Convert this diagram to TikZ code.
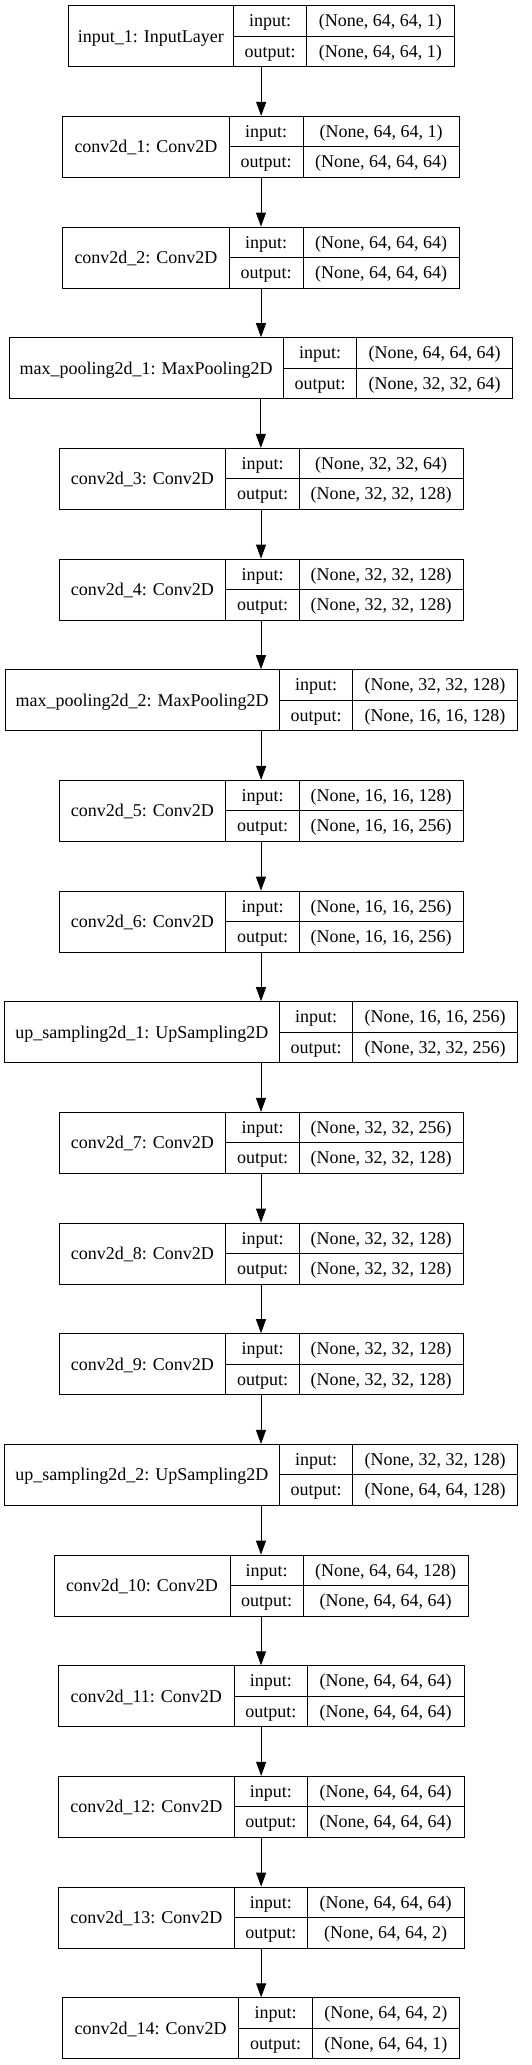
\documentclass[tikz,border=0pt]{standalone}
\usepackage{fontspec}
\setmainfont{Liberation Serif}
\usetikzlibrary{arrows.meta}
\begin{document}
\begin{tikzpicture}[x=1pt,y=1pt,
  box/.style={draw=black, line width=1pt, inner sep=0pt, minimum height=61pt},
  divline/.style={draw=black, line width=1pt},
  txt/.style={inner sep=0pt, anchor=base, font=\fontsize{18}{20}\selectfont},
  arr/.style={draw=black, line width=1pt, -{Triangle[length=14pt,width=10pt]}}]
\useasboundingbox[fill=white] (0,0) rectangle (531,-2065);
\foreach \kk/\ty/\xa/\xb/\xc/\xd/\lab/\si/\so in {
 0/5.7/68.3/233.3/306.7/454/{input\_1: InputLayer}/{(None, 64, 64, 1)}/{(None, 64, 64, 1)},
 1/116.4/62.7/229.3/303/459.3/{conv2d\_1: Conv2D}/{(None, 64, 64, 1)}/{(None, 64, 64, 64)},
 2/227.0/62.7/229.3/303/459.3/{conv2d\_2: Conv2D}/{(None, 64, 64, 64)}/{(None, 64, 64, 64)},
 3/337.7/9/283.3/356.7/512.7/{max\_pooling2d\_1: MaxPooling2D}/{(None, 64, 64, 64)}/{(None, 32, 32, 64)},
 4/448.4/59/225.7/299.3/463/{conv2d\_3: Conv2D}/{(None, 32, 32, 64)}/{(None, 32, 32, 128)},
 5/559.1/59/225.7/299.3/463/{conv2d\_4: Conv2D}/{(None, 32, 32, 128)}/{(None, 32, 32, 128)},
 6/669.7/5/279.3/352.7/517.3/{max\_pooling2d\_2: MaxPooling2D}/{(None, 32, 32, 128)}/{(None, 16, 16, 128)},
 7/780.4/59/225.7/299.3/463/{conv2d\_5: Conv2D}/{(None, 16, 16, 128)}/{(None, 16, 16, 256)},
 8/891.1/59/225.7/299.3/463/{conv2d\_6: Conv2D}/{(None, 16, 16, 256)}/{(None, 16, 16, 256)},
 9/1001.7/4.5/279.3/352.7/517.5/{up\_sampling2d\_1: UpSampling2D}/{(None, 16, 16, 256)}/{(None, 32, 32, 256)},
 10/1112.4/59/225.7/299.3/463/{conv2d\_7: Conv2D}/{(None, 32, 32, 256)}/{(None, 32, 32, 128)},
 11/1223.1/59/225.7/299.3/463/{conv2d\_8: Conv2D}/{(None, 32, 32, 128)}/{(None, 32, 32, 128)},
 12/1333.7/59/225.7/299.3/463/{conv2d\_9: Conv2D}/{(None, 32, 32, 128)}/{(None, 32, 32, 128)},
 13/1444.4/4.5/279.3/352.7/517.5/{up\_sampling2d\_2: UpSampling2D}/{(None, 32, 32, 128)}/{(None, 64, 64, 128)},
 14/1555.1/54/230/303.3/468/{conv2d\_10: Conv2D}/{(None, 64, 64, 128)}/{(None, 64, 64, 64)},
 15/1665.8/58.3/234.3/307.3/464/{conv2d\_11: Conv2D}/{(None, 64, 64, 64)}/{(None, 64, 64, 64)},
 16/1776.4/58.3/234.3/307.3/464/{conv2d\_12: Conv2D}/{(None, 64, 64, 64)}/{(None, 64, 64, 64)},
 17/1887.1/58.3/234.3/307.3/464/{conv2d\_13: Conv2D}/{(None, 64, 64, 64)}/{(None, 64, 64, 2)},
 18/1997.8/62.7/238.7/312.3/459.3/{conv2d\_14: Conv2D}/{(None, 64, 64, 2)}/{(None, 64, 64, 1)}%
}{
  \node[box, minimum width={(\xd-\xa)*1pt}] (n\kk) at ({(\xa+\xd)/2},{-\ty-30.5}) {};
  \draw[divline] (\xb,-\ty) -- (\xb,{-\ty-61});
  \draw[divline] (\xc,-\ty) -- (\xc,{-\ty-61});
  \draw[divline] (\xb,{-\ty-30.5}) -- (\xd,{-\ty-30.5});
  \node[txt] (n\kk-l) at ({(\xa+\xb)/2},{-\ty-36.5}) {\lab};
  \node[txt] (n\kk-ik) at ({(\xb+\xc)/2},{-\ty-21}) {input:};
  \node[txt] (n\kk-ok) at ({(\xb+\xc)/2},{-\ty-51.5}) {output:};
  \node[txt] (n\kk-iv) at ({(\xc+\xd)/2},{-\ty-21}) {\si};
  \node[txt] (n\kk-ov) at ({(\xc+\xd)/2},{-\ty-51.5}) {\so};
}
\foreach \i [count=\j from 1] in {0,...,17} {
  \draw[arr] (n\i.south) -- (n\i.south |- n\j.north);
}
\end{tikzpicture}
\end{document}
